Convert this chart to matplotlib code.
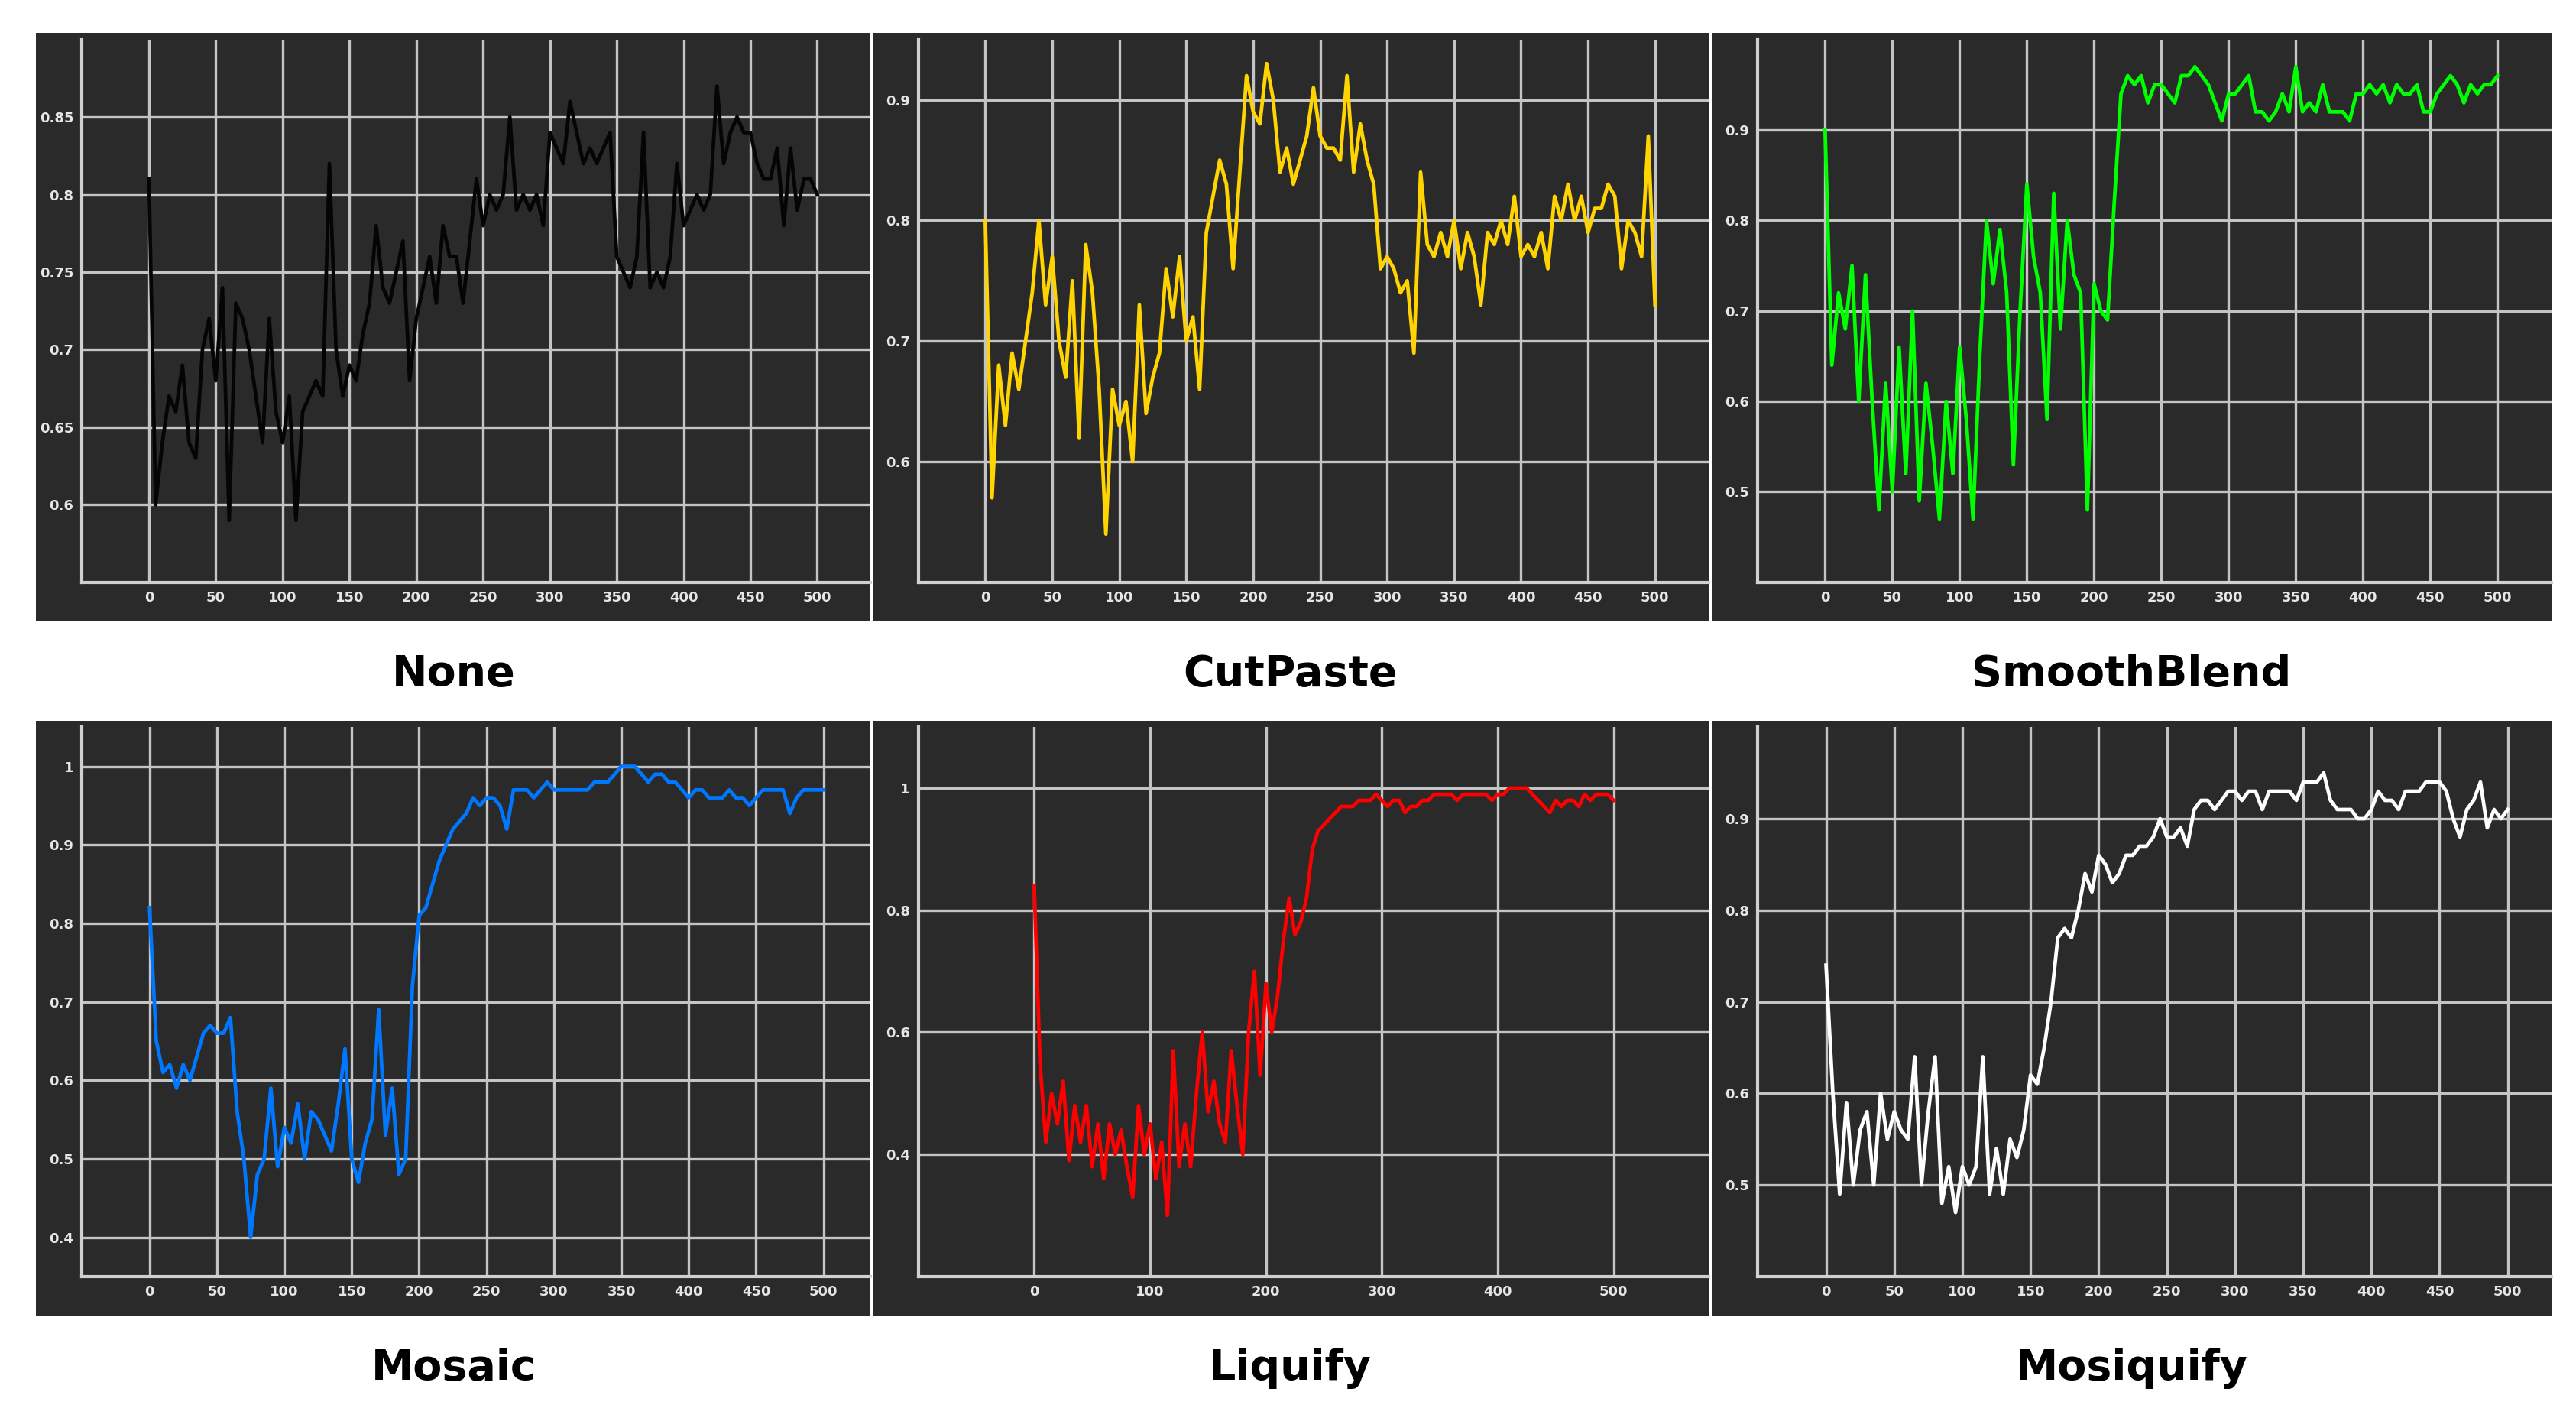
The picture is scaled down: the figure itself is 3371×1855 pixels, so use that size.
import numpy as np
import matplotlib
matplotlib.use('Agg')
import matplotlib.pyplot as plt

# accuracy curves, one value every 5 steps (0..500)
none_vals = [0.81, 0.60, 0.64, 0.67, 0.66, 0.69, 0.64, 0.63, 0.70, 0.72, 0.68, 0.74, 0.59, 0.73, 0.72, 0.70,
             0.67, 0.64, 0.72, 0.66, 0.64, 0.67, 0.59, 0.66, 0.67, 0.68, 0.67, 0.82, 0.70, 0.67, 0.69, 0.68,
             0.71, 0.73, 0.78, 0.74, 0.73, 0.75, 0.77, 0.68, 0.72, 0.74, 0.76, 0.73, 0.78, 0.76, 0.76, 0.73,
             0.77, 0.81, 0.78, 0.80, 0.79, 0.80, 0.85, 0.79, 0.80, 0.79, 0.80, 0.78, 0.84, 0.83, 0.82, 0.86,
             0.84, 0.82, 0.83, 0.82, 0.83, 0.84, 0.76, 0.75, 0.74, 0.76, 0.84, 0.74, 0.75, 0.74, 0.76, 0.82,
             0.78, 0.79, 0.80, 0.79, 0.80, 0.87, 0.82, 0.84, 0.85, 0.84, 0.84, 0.82, 0.81, 0.81, 0.83, 0.78,
             0.83, 0.79, 0.81, 0.81, 0.80]
cutpaste_vals = [0.80, 0.57, 0.68, 0.63, 0.69, 0.66, 0.70, 0.74, 0.80, 0.73, 0.77, 0.70, 0.67, 0.75, 0.62, 0.78,
                 0.74, 0.66, 0.54, 0.66, 0.63, 0.65, 0.60, 0.73, 0.64, 0.67, 0.69, 0.76, 0.72, 0.77, 0.70, 0.72,
                 0.66, 0.79, 0.82, 0.85, 0.83, 0.76, 0.84, 0.92, 0.89, 0.88, 0.93, 0.90, 0.84, 0.86, 0.83, 0.85,
                 0.87, 0.91, 0.87, 0.86, 0.86, 0.85, 0.92, 0.84, 0.88, 0.85, 0.83, 0.76, 0.77, 0.76, 0.74, 0.75,
                 0.69, 0.84, 0.78, 0.77, 0.79, 0.77, 0.80, 0.76, 0.79, 0.77, 0.73, 0.79, 0.78, 0.80, 0.78, 0.82,
                 0.77, 0.78, 0.77, 0.79, 0.76, 0.82, 0.80, 0.83, 0.80, 0.82, 0.79, 0.81, 0.81, 0.83, 0.82, 0.76,
                 0.80, 0.79, 0.77, 0.87, 0.73]
smoothblend_vals = [0.90, 0.64, 0.72, 0.68, 0.75, 0.60, 0.74, 0.60, 0.48, 0.62, 0.50, 0.66, 0.52, 0.70, 0.49, 0.62,
                    0.55, 0.47, 0.60, 0.52, 0.66, 0.58, 0.47, 0.65, 0.80, 0.73, 0.79, 0.72, 0.53, 0.70, 0.84, 0.76,
                    0.72, 0.58, 0.83, 0.68, 0.80, 0.74, 0.72, 0.48, 0.73, 0.70, 0.69, 0.82, 0.94, 0.96, 0.95, 0.96,
                    0.93, 0.95, 0.95, 0.94, 0.93, 0.96, 0.96, 0.97, 0.96, 0.95, 0.93, 0.91, 0.94, 0.94, 0.95, 0.96,
                    0.92, 0.92, 0.91, 0.92, 0.94, 0.92, 0.97, 0.92, 0.93, 0.92, 0.95, 0.92, 0.92, 0.92, 0.91, 0.94,
                    0.94, 0.95, 0.94, 0.95, 0.93, 0.95, 0.94, 0.94, 0.95, 0.92, 0.92, 0.94, 0.95, 0.96, 0.95, 0.93,
                    0.95, 0.94, 0.95, 0.95, 0.96]
mosaic_vals = [0.82, 0.65, 0.61, 0.62, 0.59, 0.62, 0.60, 0.63, 0.66, 0.67, 0.66, 0.66, 0.68, 0.56, 0.50, 0.40,
               0.48, 0.50, 0.59, 0.49, 0.54, 0.52, 0.57, 0.50, 0.56, 0.55, 0.53, 0.51, 0.57, 0.64, 0.50, 0.47,
               0.52, 0.55, 0.69, 0.53, 0.59, 0.48, 0.50, 0.72, 0.81, 0.82, 0.85, 0.88, 0.90, 0.92, 0.93, 0.94,
               0.96, 0.95, 0.96, 0.96, 0.95, 0.92, 0.97, 0.97, 0.97, 0.96, 0.97, 0.98, 0.97, 0.97, 0.97, 0.97,
               0.97, 0.97, 0.98, 0.98, 0.98, 0.99, 1.00, 1.00, 1.00, 0.99, 0.98, 0.99, 0.99, 0.98, 0.98, 0.97,
               0.96, 0.97, 0.97, 0.96, 0.96, 0.96, 0.97, 0.96, 0.96, 0.95, 0.96, 0.97, 0.97, 0.97, 0.97, 0.94,
               0.96, 0.97, 0.97, 0.97, 0.97]
liquify_vals = [0.84, 0.55, 0.42, 0.50, 0.45, 0.52, 0.39, 0.48, 0.42, 0.48, 0.38, 0.45, 0.36, 0.45, 0.40, 0.44,
                0.38, 0.33, 0.48, 0.40, 0.45, 0.36, 0.42, 0.30, 0.57, 0.38, 0.45, 0.38, 0.50, 0.60, 0.47, 0.52,
                0.45, 0.42, 0.57, 0.48, 0.40, 0.60, 0.70, 0.53, 0.68, 0.60, 0.66, 0.75, 0.82, 0.76, 0.78, 0.82,
                0.90, 0.93, 0.94, 0.95, 0.96, 0.97, 0.97, 0.97, 0.98, 0.98, 0.98, 0.99, 0.98, 0.97, 0.98, 0.98,
                0.96, 0.97, 0.97, 0.98, 0.98, 0.99, 0.99, 0.99, 0.99, 0.98, 0.99, 0.99, 0.99, 0.99, 0.99, 0.98,
                0.99, 0.99, 1.00, 1.00, 1.00, 1.00, 0.99, 0.98, 0.97, 0.96, 0.98, 0.97, 0.98, 0.98, 0.97, 0.99,
                0.98, 0.99, 0.99, 0.99, 0.98]
mosiquify_vals = [0.74, 0.60, 0.49, 0.59, 0.50, 0.56, 0.58, 0.50, 0.60, 0.55, 0.58, 0.56, 0.55, 0.64, 0.50, 0.58,
                  0.64, 0.48, 0.52, 0.47, 0.52, 0.50, 0.52, 0.64, 0.49, 0.54, 0.49, 0.55, 0.53, 0.56, 0.62, 0.61,
                  0.65, 0.70, 0.77, 0.78, 0.77, 0.80, 0.84, 0.82, 0.86, 0.85, 0.83, 0.84, 0.86, 0.86, 0.87, 0.87,
                  0.88, 0.90, 0.88, 0.88, 0.89, 0.87, 0.91, 0.92, 0.92, 0.91, 0.92, 0.93, 0.93, 0.92, 0.93, 0.93,
                  0.91, 0.93, 0.93, 0.93, 0.93, 0.92, 0.94, 0.94, 0.94, 0.95, 0.92, 0.91, 0.91, 0.91, 0.90, 0.90,
                  0.91, 0.93, 0.92, 0.92, 0.91, 0.93, 0.93, 0.93, 0.94, 0.94, 0.94, 0.93, 0.90, 0.88, 0.91, 0.92,
                  0.94, 0.89, 0.91, 0.90, 0.91]

titles = ['None', 'CutPaste', 'SmoothBlend', 'Mosaic', 'Liquify', 'Mosiquify']
series = [none_vals, cutpaste_vals, smoothblend_vals, mosaic_vals, liquify_vals, mosiquify_vals]
colors = ['#050505', '#FFD400', '#00FF00', '#0077FF', '#FF0000', '#FFFFFF']
ylims = [(0.55, 0.90), (0.50, 0.95), (0.40, 1.00), (0.35, 1.05), (0.20, 1.10), (0.40, 1.00)]
yticks = [[0.6, 0.65, 0.7, 0.75, 0.8, 0.85], [0.6, 0.7, 0.8, 0.9], [0.5, 0.6, 0.7, 0.8, 0.9],
          [0.4, 0.5, 0.6, 0.7, 0.8, 0.9, 1.0], [0.4, 0.6, 0.8, 1.0], [0.5, 0.6, 0.7, 0.8, 0.9]]
ylabels = [['0.6', '0.65', '0.7', '0.75', '0.8', '0.85'], ['0.6', '0.7', '0.8', '0.9'],
           ['0.5', '0.6', '0.7', '0.8', '0.9'], ['0.4', '0.5', '0.6', '0.7', '0.8', '0.9', '1'],
           ['0.4', '0.6', '0.8', '1'], ['0.5', '0.6', '0.7', '0.8', '0.9']]
xlims = [(-50, 540), (-50, 540), (-50, 540), (-50, 535), (-100, 582), (-50, 532)]
xsteps = [50, 50, 50, 50, 100, 50]

W, H = 1568.0, 862.0   # layout measured on the scaled-down view
cols = [(22, 530), (531, 1040), (1042, 1553)]
rows = [(20, 378), (438, 800)]
title_y = [410, 832]

fig = plt.figure(figsize=(33.71, 18.55), dpi=100)
fig.patch.set_facecolor('white')

for i in range(6):
    r, c = divmod(i, 3)
    x0, x1 = cols[c]
    y0, y1 = rows[r]
    bg = fig.add_axes([x0 / W, 1 - y1 / H, (x1 - x0) / W, (y1 - y0) / H])
    bg.set_facecolor('#2a2a2a')
    bg.set_xticks([]); bg.set_yticks([])
    for s in bg.spines.values():
        s.set_visible(False)

    left = x0 + 28
    ax = fig.add_axes([left / W, 1 - (y1 - 24) / H, (x1 - left) / W, (y1 - 24 - (y0 + 4)) / H])
    ax.set_facecolor('none')
    x = np.arange(len(series[i])) * 5
    ax.plot(x, series[i], color=colors[i], lw=3.4, zorder=3)
    ax.set_xlim(*xlims[i])
    ax.set_ylim(*ylims[i])
    ax.set_xticks(np.arange(0, 501, xsteps[i]))
    ax.set_yticks(yticks[i])
    ax.set_yticklabels(ylabels[i])
    ax.grid(True, color='#c4c4c4', lw=2.4, zorder=1)
    ax.tick_params(length=0, colors='#e6e6e6', labelsize=13, pad=8)
    for lab in ax.get_xticklabels() + ax.get_yticklabels():
        lab.set_fontweight('bold')
    for side in ['top', 'right']:
        ax.spines[side].set_visible(False)
    for side in ['left', 'bottom']:
        ax.spines[side].set_color('#d0d0d0')
        ax.spines[side].set_linewidth(3)

    fig.text(((x0 + x1) / 2) / W, 1 - title_y[r] / H, titles[i], ha='center', va='center',
             fontsize=40, fontweight='bold', family=['DejaVu Sans'], color='black')

fig.savefig('out.png', dpi=100, facecolor='white')
